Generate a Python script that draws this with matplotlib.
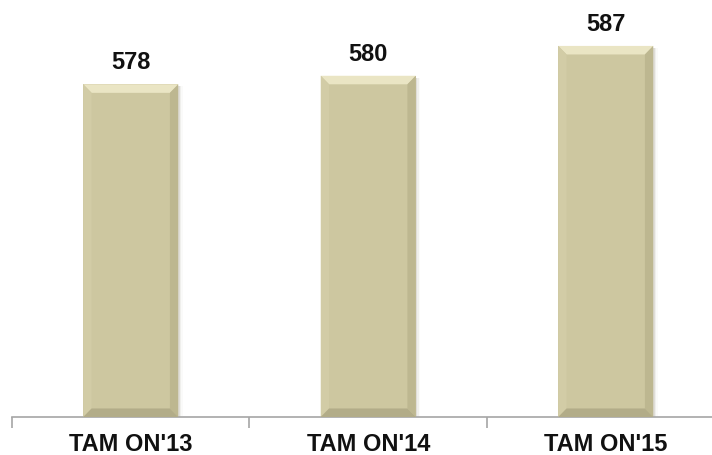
import numpy as np
import matplotlib.pyplot as plt
from matplotlib.patches import Polygon

categories = ["TAM ON'13", "TAM ON'14", "TAM ON'15"]
values = [578, 580, 587]

plt.rcParams['font.family'] = ['Liberation Sans', 'DejaVu Sans']

fig = plt.figure(figsize=(7.12, 4.56), dpi=100)
# axes: left edge at x=12px, baseline at y=418px, top at y=0
ax = fig.add_axes([12/712, (456-418)/456, 712.5/712, 418/456])

x = np.arange(len(categories))
bars = ax.bar(x, values, width=0.4, bottom=0, color='#CDC7A0', zorder=2)
ax.set_xlim(-0.5, 2.5)
ax.set_ylim(500, 598)

# bevel effect in data units
bx = 0.035
by = 2.0
for b in bars:
    x0, x1 = b.get_x(), b.get_x() + b.get_width()
    y0, y1 = 500, b.get_height()
    # soft shadow on right
    for k, a in enumerate([0.16, 0.09, 0.04]):
        off = 0.006 * (k + 1)
        ax.add_patch(Polygon([(x1, y0), (x1 + off, y0), (x1 + off, y1 - 0.5), (x1, y1 - 0.5)],
                             closed=True, color='#8a8670', alpha=a, lw=0, zorder=1))
    ax.add_patch(Polygon([(x0, y1), (x1, y1), (x1 - bx, y1 - by), (x0 + bx, y1 - by)],
                         closed=True, color='#EAE5C4', lw=0, zorder=3))
    ax.add_patch(Polygon([(x0, y0), (x0, y1), (x0 + bx, y1 - by), (x0 + bx, y0 + by)],
                         closed=True, color='#D2CCA6', lw=0, zorder=3))
    ax.add_patch(Polygon([(x1, y0), (x1, y1), (x1 - bx, y1 - by), (x1 - bx, y0 + by)],
                         closed=True, color='#BDB790', lw=0, zorder=3))
    ax.add_patch(Polygon([(x0, y0), (x1, y0), (x1 - bx, y0 + by), (x0 + bx, y0 + by)],
                         closed=True, color='#B2AC88', lw=0, zorder=3))
    ax.text(b.get_x() + b.get_width() / 2, y1 + 2.6, str(b.get_height()),
            ha='center', va='bottom', fontsize=17, fontweight='bold', color='#111111')

for s in ['top', 'right', 'left']:
    ax.spines[s].set_visible(False)
ax.spines['bottom'].set_color('#A6A6A6')
ax.spines['bottom'].set_linewidth(1.2)
ax.set_yticks([])
ax.set_xticks(x)
ax.set_xticklabels(categories, fontsize=17, fontweight='bold', color='#111111')
ax.tick_params(axis='x', which='major', length=0, pad=11)
ax.set_xticks([-0.5, 0.5, 1.5, 2.5], minor=True)
ax.tick_params(axis='x', which='minor', length=8, width=1.2, color='#A6A6A6')

fig.savefig('out.png', dpi=100)
